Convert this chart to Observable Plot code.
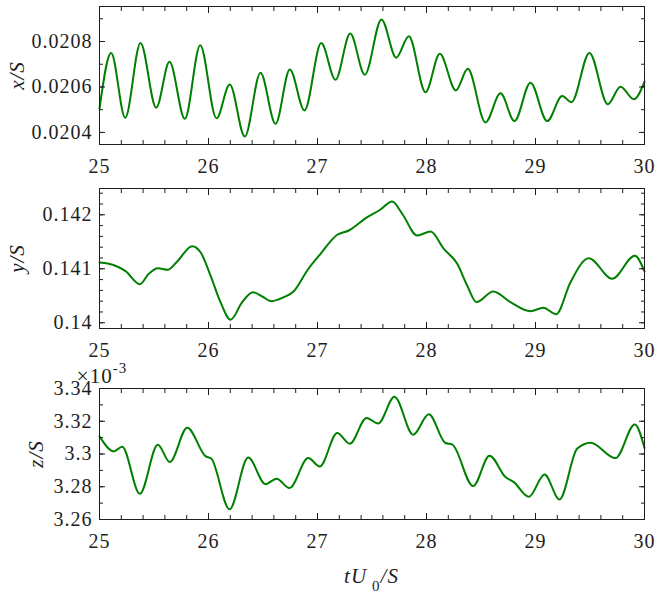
<!DOCTYPE html>
<html><head><meta charset="utf-8">
<script src="https://cdn.jsdelivr.net/npm/d3@7"></script>
<script src="https://cdn.jsdelivr.net/npm/@observablehq/plot@0.6"></script>
<style>
body{margin:0;background:#fff;}
#wrap{position:relative;width:664px;height:594px;overflow:hidden;}
#wrap svg{position:absolute;left:0;}
</style></head><body><div id="wrap"></div>
<script>
// ---- data ----
const tX = [25.000,25.107,25.236,25.376,25.520,25.642,25.783,25.924,26.073,26.195,26.333,26.477,26.615,26.746,26.881,27.034,27.165,27.300,27.434,27.587,27.722,27.838,27.991,28.122,28.269,28.379,28.541,28.679,28.807,28.954,29.107,29.245,29.330,29.495,29.663,29.780,29.902,30.000];
const xS = [0.020504,0.020749,0.020465,0.020794,0.020509,0.020711,0.020460,0.020784,0.020462,0.020611,0.020382,0.020663,0.020438,0.020677,0.020497,0.020793,0.020632,0.020835,0.020654,0.020897,0.020729,0.020823,0.020577,0.020746,0.020585,0.020680,0.020444,0.020572,0.020450,0.020619,0.020450,0.020560,0.020533,0.020750,0.020524,0.020601,0.020546,0.020624];

const tY = [25.000,25.085,25.239,25.370,25.452,25.535,25.627,25.713,25.850,25.927,26.018,26.110,26.202,26.309,26.406,26.493,26.578,26.691,26.783,26.906,27.028,27.181,27.287,27.456,27.578,27.685,27.777,27.915,28.037,28.159,28.282,28.373,28.459,28.612,28.771,28.954,29.071,29.190,29.321,29.489,29.704,29.911,30.000];
const yS = [0.141117,0.141093,0.140956,0.140715,0.140907,0.141011,0.140981,0.141135,0.141419,0.141307,0.140876,0.140381,0.140056,0.140381,0.140567,0.140487,0.140400,0.140474,0.140585,0.140969,0.141278,0.141630,0.141709,0.141956,0.142098,0.142246,0.142019,0.141617,0.141691,0.141370,0.141093,0.140691,0.140381,0.140580,0.140381,0.140215,0.140278,0.140159,0.140752,0.141196,0.140815,0.141241,0.140950];

// z/S in units of 1e-3
const tZ = [25.000,25.131,25.208,25.370,25.535,25.645,25.805,25.972,26.025,26.193,26.364,26.523,26.624,26.743,26.915,27.021,27.181,27.296,27.450,27.557,27.706,27.878,28.021,28.174,28.235,28.428,28.578,28.725,28.801,28.939,29.083,29.220,29.383,29.505,29.734,29.911,30.000];
const zS = [3.3108,3.3016,3.3045,3.2757,3.3057,3.2951,3.3161,3.2987,3.2972,3.2663,3.2978,3.2816,3.2849,3.2792,3.2975,3.2924,3.3128,3.3063,3.3220,3.3186,3.3349,3.3118,3.3243,3.3067,3.3059,3.2804,3.2990,3.2859,3.2828,3.2739,3.2875,3.2722,3.3033,3.3069,3.2975,3.3180,3.3036];

// ---- ticks ----
const xMajor = [25,26,27,28,29,30];
const xMinor = d3.range(25, 30.001, 0.2).map(d => +d.toFixed(1));
const yMajor1 = [0.0204,0.0206,0.0208];
const yMinor1 = [0.0204,0.0205,0.0206,0.0207,0.0208,0.0209];
const yMajor2 = [0.140,0.141,0.142];
const yMinor2 = d3.range(0.1400, 0.14241, 0.0002).map(d => +d.toFixed(4));
const yMajor3 = [3.26,3.28,3.30,3.32,3.34];
const yMinor3 = [3.26,3.27,3.28,3.29,3.30,3.31,3.32,3.33,3.34];

const INK = "#1e1e1e";
const GREEN = "#008000";
const FONT = "Liberation Serif";
const FS = 20;
const LS = "1px";
const fmt = d => String(+d.toFixed(6));

function panel({t, v, yDomain, yMajor, yMinor, yLabel, yLabelDx, top, height, mt, mb}) {
  const data = t.map((d, i) => ({t: d, v: v[i]}));
  const tickOpts = {stroke: INK, fill: "none", label: null};
  const svg = Plot.plot({
    width: 664, height,
    marginLeft: 99, marginRight: 20, marginTop: mt, marginBottom: mb,
    x: {domain: [25, 30]},
    y: {domain: yDomain},
    style: {fontFamily: FONT, fontSize: FS + "px", letterSpacing: LS, color: INK, background: "transparent", overflow: "visible"},
    marks: [
      Plot.line(data, {x: "t", y: "v", stroke: GREEN, strokeWidth: 2, curve: "monotone-x"}),
      Plot.frame({stroke: INK, strokeWidth: 1}),
      Plot.axisX(xMajor, {anchor: "bottom", tickSize: -6, ...tickOpts}),
      Plot.axisX(xMinor, {anchor: "bottom", tickSize: -4, ...tickOpts}),
      Plot.axisX(xMajor, {anchor: "top", tickSize: -6, ...tickOpts}),
      Plot.axisX(xMinor, {anchor: "top", tickSize: -4, ...tickOpts}),
      Plot.axisY(yMajor, {anchor: "left", tickSize: -6, ...tickOpts}),
      Plot.axisY(yMinor, {anchor: "left", tickSize: -4, ...tickOpts}),
      Plot.axisY(yMajor, {anchor: "right", tickSize: -6, ...tickOpts}),
      Plot.axisY(yMinor, {anchor: "right", tickSize: -4, ...tickOpts}),
      Plot.axisX(xMajor, {anchor: "bottom", tickSize: 0, tickPadding: 14, label: null, fill: INK, fontSize: FS, tickFormat: d => String(d)}),
      Plot.axisY(yMajor, {anchor: "left", tickSize: 0, tickPadding: 7, label: null, fill: INK, fontSize: FS, tickFormat: fmt}),
      Plot.text([yLabel], {frameAnchor: "left", dx: yLabelDx, rotate: -90, fontStyle: "italic", fontSize: FS + 1, lineAnchor: "middle", textAnchor: "middle", fill: INK})
    ]
  });
  svg.style.top = top + "px";
  document.getElementById("wrap").appendChild(svg);
  return svg;
}

panel({t: tX, v: xS, yDomain: [0.020347, 0.020954], yMajor: yMajor1, yMinor: yMinor1, yLabel: "x/S", yLabelDx: -82, top: 0, height: 180, mt: 6, mb: 36});
panel({t: tY, v: yS, yDomain: [0.139894, 0.142487], yMajor: yMajor2, yMinor: yMinor2, yLabel: "y/S", yLabelDx: -82, top: 180, height: 180, mt: 8, mb: 32});
const s3 = panel({t: tZ, v: zS, yDomain: [3.26, 3.34], yMajor: yMajor3, yMinor: yMinor3, yLabel: "z/S", yLabelDx: -63, top: 360, height: 234, mt: 28, mb: 75});

// exponent label
const g3 = d3.select(s3);
const ex = g3.append("text").attr("x", 102).attr("y", 23)
  .attr("font-family", FONT).attr("font-size", 21).attr("fill", INK);
ex.append("tspan").text("×10");
ex.append("tspan").attr("dy", -10).attr("font-size", 15).text("-3");

// x axis label tU_0/S
const xl = g3.append("text").attr("x", (99 + 644) / 2).attr("y", 223)
  .attr("text-anchor", "middle")
  .attr("font-family", FONT).attr("font-size", FS + 1).attr("fill", INK);
xl.append("tspan").attr("font-style", "italic").text("tU");
xl.append("tspan").attr("dx", 5).attr("dy", 8).attr("font-size", 15).text("0");
xl.append("tspan").attr("dy", -8).attr("font-style", "italic").text("/S");
</script>
</body></html>
